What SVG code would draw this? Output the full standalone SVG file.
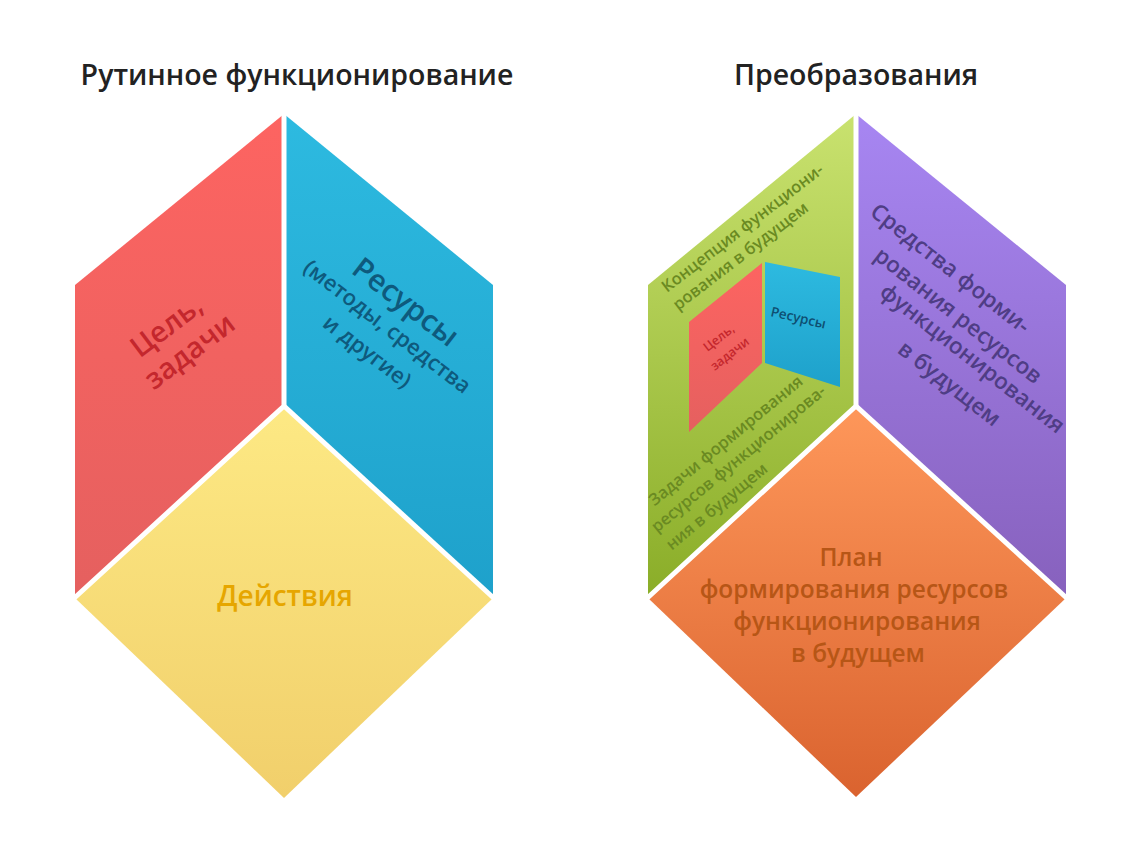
<svg xmlns="http://www.w3.org/2000/svg" width="1140" height="846" viewBox="0 0 1140 846">
  <defs>
    <linearGradient id="gRed" x1="0" y1="0" x2="0" y2="1"><stop offset="0" stop-color="#fd6461"/><stop offset="1" stop-color="#e5605f"/></linearGradient>
    <linearGradient id="gBlue" x1="0" y1="0" x2="0" y2="1"><stop offset="0" stop-color="#2dbae0"/><stop offset="1" stop-color="#1ea1cb"/></linearGradient>
    <linearGradient id="gYel" x1="0" y1="0" x2="0" y2="1"><stop offset="0" stop-color="#fde984"/><stop offset="1" stop-color="#f1cf6b"/></linearGradient>
    <linearGradient id="gGreen" x1="0" y1="0" x2="0" y2="1"><stop offset="0" stop-color="#c9e26f"/><stop offset="1" stop-color="#8aad28"/></linearGradient>
    <linearGradient id="gPurp" x1="0" y1="0" x2="0" y2="1"><stop offset="0" stop-color="#a786f2"/><stop offset="1" stop-color="#8761bd"/></linearGradient>
    <linearGradient id="gOr" x1="0" y1="0" x2="0" y2="1"><stop offset="0" stop-color="#fe975a"/><stop offset="1" stop-color="#da632f"/></linearGradient>
  </defs>
  <style>
    text { font-family: "Open Sans", "Noto Sans", "DejaVu Sans", sans-serif; font-weight: 600; }
    .title { font-size: 28.5px; fill: #222222; text-anchor: middle; }
    .sep { stroke: #ffffff; stroke-width: 5; fill: none; }
    .lbl { text-anchor: middle; }
    .st { text-anchor: start; }
  </style>
  <rect width="1140" height="846" fill="#ffffff"/>

  <g id="title-left"><text class="title" x="297" y="85">Рутинное функционирование</text></g>
  <g id="title-right"><text class="title" x="856" y="85">Преобразования</text></g>

  <!-- Left cube -->
  <g id="left-goal">
    <polygon points="284,114 75,285 75,598 284,406" fill="url(#gRed)"/>
    <g fill="#c4272d" font-size="29">
      <text class="lbl" transform="translate(167,327) rotate(-37)" y="9">Цель,</text>
      <text class="lbl" transform="translate(190,352) rotate(-37)" y="9">задачи</text>
    </g>
  </g>
  <g id="left-resources">
    <polygon points="284,114 493,285 493,598 284,406" fill="url(#gBlue)"/>
    <g fill="#0e5a7d">
      <text class="lbl" transform="translate(405,303) rotate(37.5)" y="9" font-size="30" font-weight="bold">Ресурсы</text>
      <text class="lbl" transform="translate(387,327) rotate(37.5)" y="7" font-size="22">(методы, средства</text>
      <text class="lbl" transform="translate(367,352) rotate(37.5)" y="7" font-size="22">и другие)</text>
    </g>
  </g>
  <g id="left-actions">
    <polygon points="284,406 75,598 284,798 493,598" fill="url(#gYel)"/>
    <text class="lbl" x="285" y="606" font-size="28" fill="#e6a600">Действия</text>
  </g>

  <!-- Right cube -->
  <g id="right-concept">
    <polygon points="856,114 648,285 648,598 856,406" fill="url(#gGreen)"/>
    <g fill="#6a8a22" font-size="16.5">
      <g transform="translate(667,293) rotate(-37.5)">
        <text class="st" x="0" y="0">Концепция функциони-</text>
        <text class="st" x="-2" y="21">рования в будущем</text>
      </g>
      <g transform="translate(657,533) rotate(-39.5)">
        <text class="st" x="15" y="-22">Задачи формирования</text>
        <text class="st" x="0" y="0">ресурсов функционирова-</text>
        <text class="st" x="0" y="23">ния в будущем</text>
      </g>
    </g>
  </g>
  <g id="mini-goal">
    <polygon points="689,322 762,263 762,363 689,432" fill="url(#gRed)"/>
    <g fill="#c4272d" font-size="12.5">
      <text class="lbl" transform="translate(719,338) rotate(-38)" y="4">Цель,</text>
      <text class="lbl" transform="translate(730,354) rotate(-38)" y="4">задачи</text>
    </g>
  </g>
  <g id="mini-resources">
    <polygon points="765,262 840,277 840,387 765,363" fill="url(#gBlue)"/>
    <text class="st" transform="translate(770,316) rotate(13)" font-size="13.5" fill="#0e4f72">Ресурсы</text>
  </g>
  <g id="right-means">
    <polygon points="856,114 1066,285 1066,598 856,406" fill="url(#gPurp)"/>
    <g fill="#4f3d85" font-size="22.5">
      <text class="lbl" transform="translate(950,269) rotate(38)" y="7">Средства форми-</text>
      <text class="lbl" transform="translate(958,316) rotate(38)" y="7">рования ресурсов</text>
      <text class="lbl" transform="translate(972,359) rotate(38)" y="7">функционирования</text>
      <text class="lbl" transform="translate(949,384) rotate(38)" y="7">в будущем</text>
    </g>
  </g>
  <g id="right-plan">
    <polygon points="856,406 648,598 856,797 1066,598" fill="url(#gOr)"/>
    <g fill="#b75616" font-size="24.5">
      <text class="lbl" x="851" y="566">План</text>
      <text class="lbl" x="854" y="598">формирования ресурсов</text>
      <text class="lbl" x="857" y="630">функционирования</text>
      <text class="lbl" x="858" y="662">в будущем</text>
    </g>
  </g>

  <g id="connectors">
    <polyline class="sep" points="284,108 284,406 70,602"/>
    <line class="sep" x1="284" y1="406" x2="498" y2="602"/>
    <polyline class="sep" points="856,108 856,406 643,602"/>
    <line class="sep" x1="856" y1="406" x2="1071" y2="602"/>
  </g>
</svg>
